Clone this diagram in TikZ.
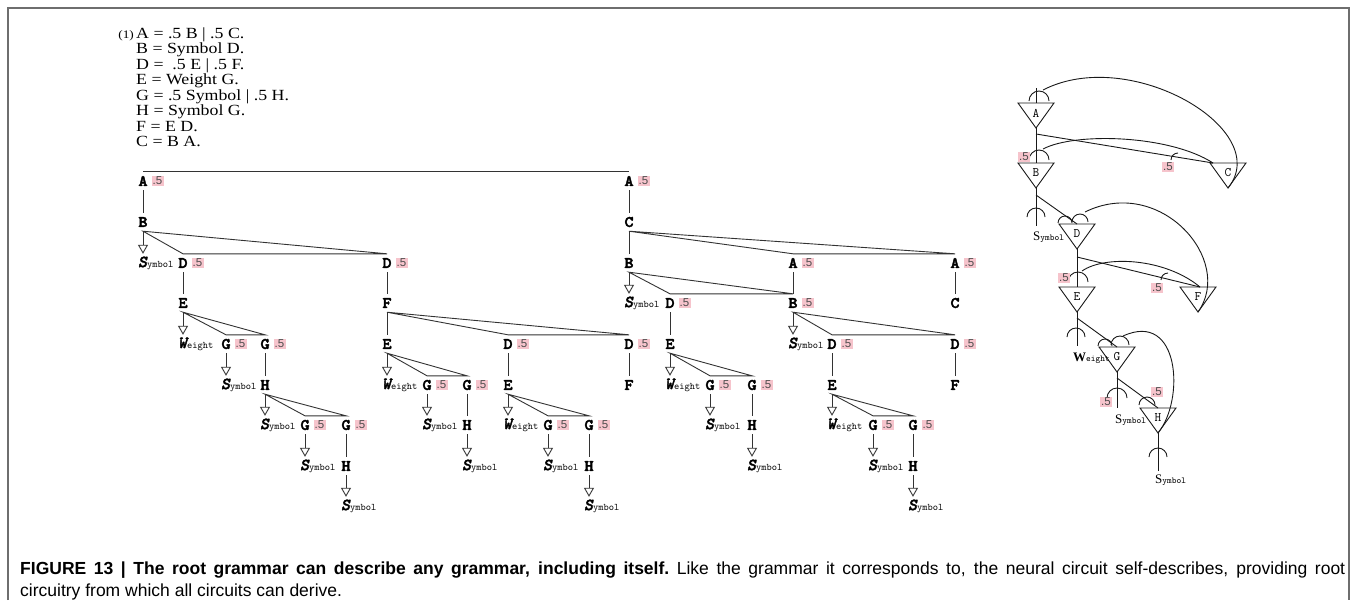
\documentclass[tikz,border=0pt]{standalone}
\usepackage{fontspec}
\setmainfont{Liberation Serif}
\setsansfont{Liberation Sans}
\newfontfamily\gramfont{Liberation Serif}[FakeStretch=1.15]
\newfontfamily\letterfont{lmmonolt10-bold.otf}[FakeStretch=1.1, FakeBold=2.5]
\newfontfamily\slantfont{lmmonolt10-boldoblique.otf}[FakeBold=2]
\usetikzlibrary{arrows.meta}

\definecolor{halfpink}{RGB}{246,196,204}
\definecolor{framegray}{RGB}{110,110,110}

\newcommand{\Sym}{{\fontsize{17}{17}\selectfont\slantfont S}{\fontsize{10}{10}\selectfont\ttfamily ymbol}}
\newcommand{\Wgt}{{\fontsize{17}{17}\selectfont\slantfont W}{\fontsize{10}{10}\selectfont\ttfamily eight}}
\newcommand{\CSym}{{\fontsize{13}{13}\selectfont S}{\fontsize{9}{9}\selectfont\ttfamily ymbol}}
\newcommand{\CWgt}{{\fontsize{13}{13}\selectfont\bfseries W}{\fontsize{9}{9}\selectfont\ttfamily eight}}

\begin{document}
\begin{tikzpicture}[x=1pt,y=1pt,label distance=2.5pt]


\tikzset{
  LetterStyle/.style = { inner sep=1pt, minimum height=18pt,
                       font = \letterfont\fontsize{16}{16}\selectfont },
  HalfStyle/.style = { fill=halfpink, text=black!70, inner sep=1.2pt,
                       font = \sffamily\fontsize{11.5}{11.5}\selectfont },
  WithHalf/.style = { label = {[HalfStyle]right:.5} },
  TermStyle/.style = { anchor=west, inner sep=0pt, minimum height=18pt },
  TreeEdge/.style = { draw=black!80, line width=0.9pt },
  ArrowStyle/.style = { TreeEdge, -{Triangle[open,length=9pt,width=10pt]} },
  NeuronStyle/.style = { inner sep=0pt, font = \ttfamily\fontsize{13}{13}\selectfont },
  WireStyle/.style = { draw=black!90, line width=0.9pt },
  GramStyle/.style = { anchor=base west, inner sep=0pt, font = \gramfont\fontsize{15.5}{15.5}\selectfont },
  CapStyle/.style = { anchor=base west, inner sep=0pt, font = \sffamily\fontsize{17.5}{21}\selectfont },
  CircLabel/.style = { anchor=west, inner sep=0pt } }

  \useasboundingbox (0,0) rectangle (1357,-600);
  \draw[framegray, line width=1.4pt] (8,-600) -- (8,-8) -- (1349,-8) -- (1349,-600);

  % grammar
  \node[GramStyle, anchor=base east, font=\gramfont\fontsize{11.5}{11.5}\selectfont] (g0) at (134,-38) {(1)};
  \node[GramStyle] (g1) at (136,-38) {A = .5 B | .5 C.};
  \node[GramStyle] (g2) at (136,-53.5) {B = Symbol D.};
  \node[GramStyle] (g3) at (136,-69) {D = \ .5 E | .5 F.};
  \node[GramStyle] (g4) at (136,-84.5) {E = Weight G.};
  \node[GramStyle] (g5) at (136,-100) {G = .5 Symbol | .5 H.};
  \node[GramStyle] (g6) at (136,-115.5) {H = Symbol G.};
  \node[GramStyle] (g7) at (136,-131) {F = E D.};
  \node[GramStyle] (g8) at (136,-146.5) {C = B A.};

  % tree
  \node[LetterStyle, WithHalf] (nA1) at (143,-181) {A};
  \node[LetterStyle, WithHalf] (nA2) at (629,-181) {A};

  \node[LetterStyle] (nB1) at (143,-222) {B};
  \node[LetterStyle] (nC1) at (629,-222) {C};

  \node[TermStyle] (sym1) at (138,-263) {\Sym};
  \node[LetterStyle, WithHalf] (nD1) at (183,-263) {D};
  \node[LetterStyle, WithHalf] (nD2) at (387,-263) {D};
  \node[LetterStyle] (nB2) at (629,-263) {B};
  \node[LetterStyle, WithHalf] (nA3) at (793,-263) {A};
  \node[LetterStyle, WithHalf] (nA4) at (955,-263) {A};

  \node[LetterStyle] (nE1) at (183,-303) {E};
  \node[LetterStyle] (nF1) at (387,-303) {F};
  \node[TermStyle] (sym2) at (624,-303) {\Sym};
  \node[LetterStyle, WithHalf] (nD3) at (670,-303) {D};
  \node[LetterStyle, WithHalf] (nB3) at (793,-303) {B};
  \node[LetterStyle] (nC2) at (955,-303) {C};

  \node[TermStyle] (wgt1) at (178,-344) {\Wgt};
  \node[LetterStyle, WithHalf] (nG1) at (226,-344) {G};
  \node[LetterStyle, WithHalf] (nG2) at (265,-344) {G};
  \node[LetterStyle] (nE2) at (387,-344) {E};
  \node[LetterStyle, WithHalf] (nD4) at (508,-344) {D};
  \node[LetterStyle, WithHalf] (nD5) at (629,-344) {D};
  \node[LetterStyle] (nE3) at (670,-344) {E};
  \node[TermStyle] (sym3) at (788,-344) {\Sym};
  \node[LetterStyle, WithHalf] (nD6) at (832,-344) {D};
  \node[LetterStyle, WithHalf] (nD7) at (955,-344) {D};

  \node[TermStyle] (sym4) at (221,-385) {\Sym};
  \node[LetterStyle] (nH1) at (265,-385) {H};
  \node[TermStyle] (wgt2) at (382,-385) {\Wgt};
  \node[LetterStyle, WithHalf] (nG3) at (427,-385) {G};
  \node[LetterStyle, WithHalf] (nG4) at (467,-385) {G};
  \node[LetterStyle] (nE4) at (508,-385) {E};
  \node[LetterStyle] (nF2) at (629,-385) {F};
  \node[TermStyle] (wgt3) at (665,-385) {\Wgt};
  \node[LetterStyle, WithHalf] (nG5) at (710,-385) {G};
  \node[LetterStyle, WithHalf] (nG6) at (752,-385) {G};
  \node[LetterStyle] (nE5) at (832,-385) {E};
  \node[LetterStyle] (nF3) at (955,-385) {F};

  \node[TermStyle] (sym5) at (260,-425) {\Sym};
  \node[LetterStyle, WithHalf] (nG7) at (305,-425) {G};
  \node[LetterStyle, WithHalf] (nG8) at (346,-425) {G};
  \node[TermStyle] (sym6) at (422,-425) {\Sym};
  \node[LetterStyle] (nH2) at (467,-425) {H};
  \node[TermStyle] (wgt4) at (503,-425) {\Wgt};
  \node[LetterStyle, WithHalf] (nG9) at (548,-425) {G};
  \node[LetterStyle, WithHalf] (nG10) at (589,-425) {G};
  \node[TermStyle] (sym7) at (705,-425) {\Sym};
  \node[LetterStyle] (nH3) at (752,-425) {H};
  \node[TermStyle] (wgt5) at (827,-425) {\Wgt};
  \node[LetterStyle, WithHalf] (nG11) at (873,-425) {G};
  \node[LetterStyle, WithHalf] (nG12) at (913,-425) {G};

  \node[TermStyle] (sym8) at (300,-466) {\Sym};
  \node[LetterStyle] (nH4) at (346,-466) {H};
  \node[TermStyle] (sym9) at (462,-466) {\Sym};
  \node[TermStyle] (sym10) at (543,-466) {\Sym};
  \node[LetterStyle] (nH5) at (589,-466) {H};
  \node[TermStyle] (sym11) at (747,-466) {\Sym};
  \node[TermStyle] (sym12) at (868,-466) {\Sym};
  \node[LetterStyle] (nH6) at (913,-466) {H};

  \node[TermStyle] (sym13) at (341,-506) {\Sym};
  \node[TermStyle] (sym14) at (584,-506) {\Sym};
  \node[TermStyle] (sym15) at (908,-506) {\Sym};

  % top bar
  \draw[TreeEdge] (nA1.north) -- (nA2.north);

  % single children
  \draw[TreeEdge] (nA1.south) -- (nB1.north);
  \draw[TreeEdge] (nA2.south) -- (nC1.north);
  \draw[TreeEdge] (nC1.south) -- (nB2.north);
  \draw[TreeEdge] (nD1.south) -- (nE1.north);
  \draw[TreeEdge] (nD2.south) -- (nF1.north);
  \draw[TreeEdge] (nA3.south) -- (nB3.north);
  \draw[TreeEdge] (nA4.south) -- (nC2.north);
  \draw[TreeEdge] (nG2.south) -- (nH1.north);
  \draw[TreeEdge] (nF1.south) -- (nE2.north);
  \draw[TreeEdge] (nD4.south) -- (nE4.north);
  \draw[TreeEdge] (nD5.south) -- (nF2.north);
  \draw[TreeEdge] (nD3.south) -- (nE3.north);
  \draw[TreeEdge] (nD6.south) -- (nE5.north);
  \draw[TreeEdge] (nD7.south) -- (nF3.north);
  \draw[TreeEdge] (nG8.south) -- (nH4.north);
  \draw[TreeEdge] (nG4.south) -- (nH2.north);
  \draw[TreeEdge] (nG10.south) -- (nH5.north);
  \draw[TreeEdge] (nG6.south) -- (nH3.north);
  \draw[TreeEdge] (nG12.south) -- (nH6.north);

  % alternatives
  \draw[TreeEdge] (nB1.south) -- (nD1.north) -- (nD2.north) -- cycle;
  \draw[TreeEdge] (nE1.south) -- (nG1.north) -- (nG2.north) -- cycle;
  \draw[TreeEdge] (nH1.south) -- (nG7.north) -- (nG8.north) -- cycle;
  \draw[TreeEdge] (nC1.south) -- (nA3.north) -- (nA4.north) -- cycle;
  \draw[TreeEdge] (nB2.south) -- (nD3.north) -- (nB3.north) -- cycle;
  \draw[TreeEdge] (nF1.south) -- (nD4.north) -- (nD5.north) -- cycle;
  \draw[TreeEdge] (nE2.south) -- (nG3.north) -- (nG4.north) -- cycle;
  \draw[TreeEdge] (nE4.south) -- (nG9.north) -- (nG10.north) -- cycle;
  \draw[TreeEdge] (nE3.south) -- (nG5.north) -- (nG6.north) -- cycle;
  \draw[TreeEdge] (nB3.south) -- (nD6.north) -- (nD7.north) -- cycle;
  \draw[TreeEdge] (nE5.south) -- (nG11.north) -- (nG12.north) -- cycle;

  % terminals
  \draw[ArrowStyle] (nB1.south) -- (nB1.south |- sym1.north);
  \draw[ArrowStyle] (nE1.south) -- (nE1.south |- wgt1.north);
  \draw[ArrowStyle] (nG1.south) -- (nG1.south |- sym4.north);
  \draw[ArrowStyle] (nH1.south) -- (nH1.south |- sym5.north);
  \draw[ArrowStyle] (nG7.south) -- (nG7.south |- sym8.north);
  \draw[ArrowStyle] (nH4.south) -- (nH4.south |- sym13.north);
  \draw[ArrowStyle] (nE2.south) -- (nE2.south |- wgt2.north);
  \draw[ArrowStyle] (nG3.south) -- (nG3.south |- sym6.north);
  \draw[ArrowStyle] (nH2.south) -- (nH2.south |- sym9.north);
  \draw[ArrowStyle] (nE4.south) -- (nE4.south |- wgt4.north);
  \draw[ArrowStyle] (nG9.south) -- (nG9.south |- sym10.north);
  \draw[ArrowStyle] (nH5.south) -- (nH5.south |- sym14.north);
  \draw[ArrowStyle] (nB2.south) -- (nB2.south |- sym2.north);
  \draw[ArrowStyle] (nE3.south) -- (nE3.south |- wgt3.north);
  \draw[ArrowStyle] (nG5.south) -- (nG5.south |- sym7.north);
  \draw[ArrowStyle] (nH3.south) -- (nH3.south |- sym11.north);
  \draw[ArrowStyle] (nB3.south) -- (nB3.south |- sym3.north);
  \draw[ArrowStyle] (nE5.south) -- (nE5.south |- wgt5.north);
  \draw[ArrowStyle] (nG11.south) -- (nG11.south |- sym12.north);
  \draw[ArrowStyle] (nH6.south) -- (nH6.south |- sym15.north);

  % circuit
  \node[NeuronStyle] (cA) at (1036,-113) {A};
  \node[NeuronStyle] (cB) at (1036,-173) {B};
  \node[NeuronStyle] (cC) at (1228,-173) {C};
  \node[NeuronStyle] (cD) at (1077,-234) {D};
  \node[NeuronStyle] (cE) at (1077,-297) {E};
  \node[NeuronStyle] (cF) at (1198,-297) {F};
  \node[NeuronStyle] (cG) at (1117,-357) {G};
  \node[NeuronStyle] (cH) at (1158,-418) {H};

  \draw[WireStyle] ([shift={(-18,10)}]cA.center) -- ([shift={(18,10)}]cA.center) -- ([shift={(0,-15)}]cA.center) -- cycle;
  \draw[WireStyle] ([shift={(-18,10)}]cB.center) -- ([shift={(18,10)}]cB.center) -- ([shift={(0,-15)}]cB.center) -- cycle;
  \draw[WireStyle] ([shift={(-18,10)}]cC.center) -- ([shift={(18,10)}]cC.center) -- ([shift={(0,-15)}]cC.center) -- cycle;
  \draw[WireStyle] ([shift={(-18,10)}]cD.center) -- ([shift={(18,10)}]cD.center) -- ([shift={(0,-15)}]cD.center) -- cycle;
  \draw[WireStyle] ([shift={(-18,10)}]cE.center) -- ([shift={(18,10)}]cE.center) -- ([shift={(0,-15)}]cE.center) -- cycle;
  \draw[WireStyle] ([shift={(-18,10)}]cF.center) -- ([shift={(18,10)}]cF.center) -- ([shift={(0,-15)}]cF.center) -- cycle;
  \draw[WireStyle] ([shift={(-18,10)}]cG.center) -- ([shift={(18,10)}]cG.center) -- ([shift={(0,-15)}]cG.center) -- cycle;
  \draw[WireStyle] ([shift={(-18,10)}]cH.center) -- ([shift={(18,10)}]cH.center) -- ([shift={(0,-15)}]cH.center) -- cycle;

  \coordinate (cAtop) at ([yshift=10pt]cA.center);
  \coordinate (cAtip) at ([yshift=-15pt]cA.center);
  \coordinate (cBtop) at ([yshift=10pt]cB.center);
  \coordinate (cBtip) at ([yshift=-15pt]cB.center);
  \coordinate (cCtip) at ([yshift=-15pt]cC.center);
  \coordinate (cCin) at ([shift={(-15,10)}]cC.center);
  \coordinate (cDtop) at ([yshift=10pt]cD.center);
  \coordinate (cDtip) at ([yshift=-15pt]cD.center);
  \coordinate (cEtop) at ([yshift=10pt]cE.center);
  \coordinate (cEtip) at ([yshift=-15pt]cE.center);
  \coordinate (cFtip) at ([yshift=-15pt]cF.center);
  \coordinate (cFin) at ([shift={(2,10)}]cF.center);
  \coordinate (cGtop) at ([yshift=10pt]cG.center);
  \coordinate (cGtip) at ([yshift=-15pt]cG.center);
  \coordinate (cHtop) at ([yshift=10pt]cH.center);
  \coordinate (cHtip) at ([yshift=-15pt]cH.center);

  \coordinate (dA) at (1036,-88);
  \coordinate (jA) at (1036,-134);
  \coordinate (jB) at (1036,-195);
  \coordinate (jD) at (1077,-257);
  \coordinate (jE) at (1077,-318);
  \coordinate (jG) at (1117,-378);
  \coordinate (oB) at (1036,-226);
  \coordinate (oE) at (1077,-346);
  \coordinate (oG) at (1117,-408);
  \coordinate (oH) at (1158,-471);

  % axons and dendrites
  \draw[WireStyle] (cAtop) -- (dA);
  \draw[WireStyle] (cAtip) -- (cBtop);
  \draw[WireStyle] (jA) -- (cCin);
  \draw[WireStyle] (cBtip) -- (oB);
  \draw[WireStyle] (jB) -- (cDtop);
  \draw[WireStyle] (cDtip) -- (cEtop);
  \draw[WireStyle] (jD) -- (cFin);
  \draw[WireStyle] (cEtip) -- (oE);
  \draw[WireStyle] (jE) -- (cGtop);
  \draw[WireStyle] (cGtip) -- (oG);
  \draw[WireStyle] (jG) -- (cHtop);
  \draw[WireStyle] (cHtip) -- (oH);

  % loops back
  \draw[WireStyle] (cCtip) .. controls (1275,-130) and (1130,-45) .. (1043,-90);
  \draw[WireStyle] (1043,-149) .. controls (1075,-132) and (1170,-135) .. (cCin);
  \draw[WireStyle] (cFtip) .. controls (1235,-260) and (1160,-175) .. (1085,-212);
  \draw[WireStyle] (1082,-271) .. controls (1105,-255) and (1165,-258) .. (cFin);
  \draw[WireStyle] (cHtip) .. controls (1185,-400) and (1180,-310) .. (1123,-336);

  % synapses
  \draw[WireStyle] (1049,-101) arc[start angle=0, end angle=180, radius=10pt];
  \draw[WireStyle] (1049,-160) arc[start angle=0, end angle=180, radius=10pt];
  \draw[WireStyle] (1045,-217) arc[start angle=0, end angle=180, radius=9pt];
  \draw[WireStyle] (1072,-223) arc[start angle=0, end angle=180, radius=7pt];
  \draw[WireStyle] (1088,-222) arc[start angle=0, end angle=180, radius=8pt];
  \draw[WireStyle] (1088,-282) arc[start angle=0, end angle=180, radius=10pt];
  \draw[WireStyle] (1085,-337) arc[start angle=0, end angle=180, radius=9pt];
  \draw[WireStyle] (1112,-346) arc[start angle=0, end angle=180, radius=7pt];
  \draw[WireStyle] (1129,-345) arc[start angle=0, end angle=180, radius=9pt];
  \draw[WireStyle] (1127,-398) arc[start angle=0, end angle=180, radius=10pt];
  \draw[WireStyle] (1155,-405) arc[start angle=0, end angle=180, radius=8pt];
  \draw[WireStyle] (1167,-457) arc[start angle=0, end angle=180, radius=9pt];
  \draw[WireStyle] (1171,-160) arc[start angle=180, end angle=90, radius=7pt];
  \draw[WireStyle] (1161,-280) arc[start angle=180, end angle=90, radius=7pt];

  % weights and labels
  \node[HalfStyle] (w1) at (1024,-157) {.5};
  \node[HalfStyle] (w2) at (1168,-167) {.5};
  \node[HalfStyle] (w3) at (1064,-278) {.5};
  \node[HalfStyle] (w4) at (1157,-288) {.5};
  \node[HalfStyle] (w5) at (1106,-402) {.5};
  \node[HalfStyle] (w6) at (1157,-392) {.5};
  \node[CircLabel] (lb1) at (1033,-237) {\CSym};
  \node[CircLabel] (lb2) at (1073,-358) {\CWgt};
  \node[CircLabel] (lb3) at (1115,-420) {\CSym};
  \node[CircLabel] (lb4) at (1155,-480) {\CSym};

  % caption
  \node[CapStyle] (cap1) at (20,-574) {\makebox[1325pt][s]{\bfseries FIGURE 13 | The root grammar can describe any grammar, including itself.\mdseries\ Like the grammar it corresponds to, the neural circuit self-describes, providing root}};
  \node[CapStyle] (cap2) at (20,-596) {circuitry from which all circuits can derive.};

\end{tikzpicture}
\end{document}
